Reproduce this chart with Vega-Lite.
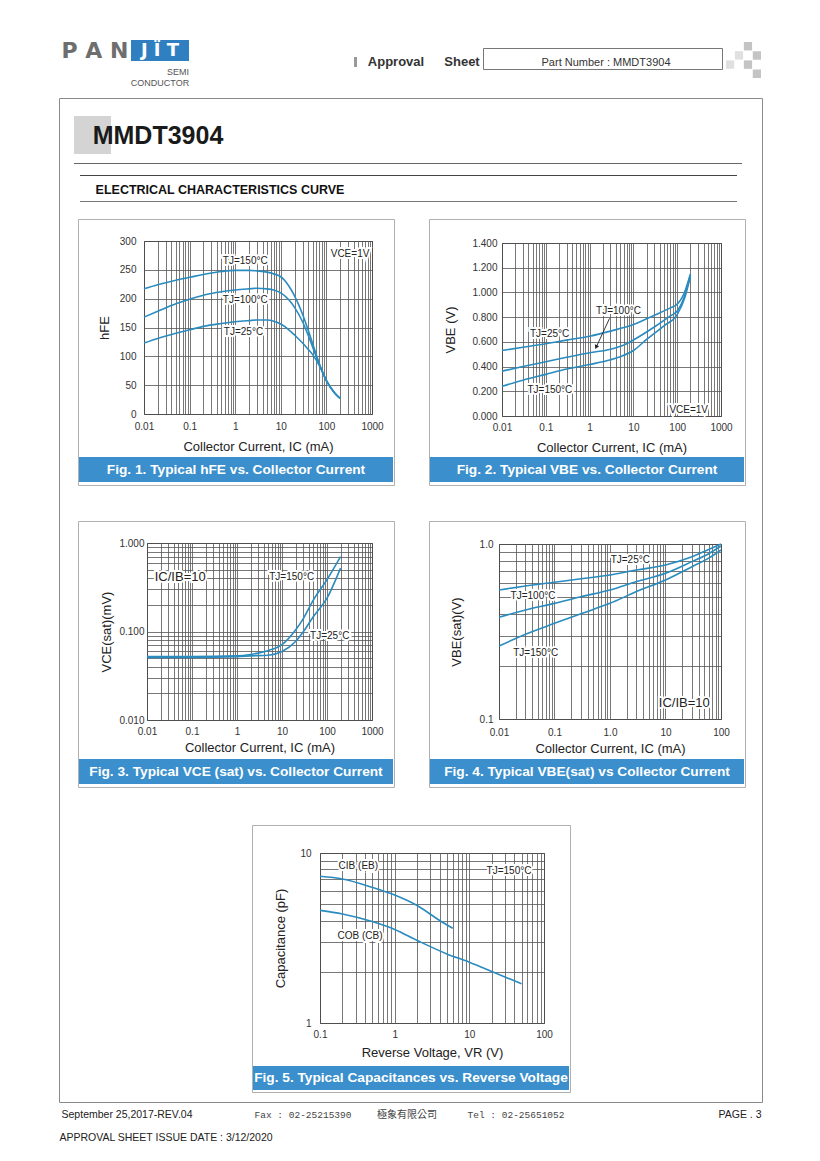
{
"$schema":"https://vega.github.io/schema/vega-lite/v6.json",
"background":"white","padding":0,"bounds":"flush","spacing":0,
"config":{"font":"Liberation Sans","view":{"stroke":null},
"axis":{"labelFont":"Liberation Sans","labelFontSize":10,"labelColor":"#333","titleFont":"Liberation Sans","titleFontSize":13,"titleFontWeight":"normal","titleColor":"#222","ticks":false,"tickSize":0,"domain":false,"grid":true,"gridColor":"#555","gridWidth":0.8,"gridOpacity":1,"labelOverlap":false,"labelFlush":false,"labelBound":false}},
"datasets":{
"f1":[
{"tj":"150","ic":0.01,"h":217},{"tj":"150","ic":0.02,"h":224},{"tj":"150","ic":0.05,"h":232},{"tj":"150","ic":0.1,"h":237},{"tj":"150","ic":0.2,"h":242},{"tj":"150","ic":0.5,"h":247},{"tj":"150","ic":1,"h":249},{"tj":"150","ic":2,"h":249},{"tj":"150","ic":3,"h":248},{"tj":"150","ic":5,"h":246},{"tj":"150","ic":7,"h":243},{"tj":"150","ic":10,"h":238},{"tj":"150","ic":13,"h":229},{"tj":"150","ic":17,"h":215},{"tj":"150","ic":20,"h":205},{"tj":"150","ic":30,"h":173},{"tj":"150","ic":40,"h":145},{"tj":"150","ic":50,"h":122},{"tj":"150","ic":70,"h":87},{"tj":"150","ic":100,"h":58},{"tj":"150","ic":150,"h":37},{"tj":"150","ic":200,"h":27},
{"tj":"100","ic":0.01,"h":168},{"tj":"100","ic":0.02,"h":178},{"tj":"100","ic":0.05,"h":191},{"tj":"100","ic":0.1,"h":199},{"tj":"100","ic":0.2,"h":206},{"tj":"100","ic":0.5,"h":212},{"tj":"100","ic":1,"h":215},{"tj":"100","ic":2,"h":217},{"tj":"100","ic":3,"h":218},{"tj":"100","ic":5,"h":217},{"tj":"100","ic":7,"h":215},{"tj":"100","ic":10,"h":210},{"tj":"100","ic":15,"h":198},{"tj":"100","ic":20,"h":185},{"tj":"100","ic":30,"h":160},{"tj":"100","ic":40,"h":136},{"tj":"100","ic":50,"h":116},{"tj":"100","ic":70,"h":86},{"tj":"100","ic":100,"h":58},{"tj":"100","ic":150,"h":37},{"tj":"100","ic":200,"h":27},
{"tj":"25","ic":0.01,"h":123},{"tj":"25","ic":0.02,"h":131},{"tj":"25","ic":0.05,"h":140},{"tj":"25","ic":0.1,"h":146},{"tj":"25","ic":0.2,"h":152},{"tj":"25","ic":0.5,"h":157},{"tj":"25","ic":1,"h":160},{"tj":"25","ic":2,"h":162},{"tj":"25","ic":3,"h":163},{"tj":"25","ic":5,"h":163},{"tj":"25","ic":7,"h":161},{"tj":"25","ic":10,"h":156},{"tj":"25","ic":15,"h":146},{"tj":"25","ic":20,"h":137},{"tj":"25","ic":30,"h":123},{"tj":"25","ic":40,"h":112},{"tj":"25","ic":50,"h":103},{"tj":"25","ic":70,"h":84},{"tj":"25","ic":100,"h":58},{"tj":"25","ic":150,"h":37},{"tj":"25","ic":200,"h":27}],
"f1l":[{"ic":1.66,"h":265,"label":"TJ=150°C"},{"ic":1.66,"h":197,"label":"TJ=100°C"},{"ic":1.52,"h":142,"label":"TJ=25°C"},{"ic":330,"h":277,"label":"VCE=1V"}],
"f2":[
{"tj":"25","ic":0.01,"v":0.53},{"tj":"25","ic":0.03,"v":0.556},{"tj":"25","ic":0.1,"v":0.584},{"tj":"25","ic":0.3,"v":0.614},{"tj":"25","ic":1,"v":0.646},{"tj":"25","ic":3,"v":0.687},{"tj":"25","ic":10,"v":0.74},{"tj":"25","ic":30,"v":0.815},{"tj":"25","ic":70,"v":0.875},{"tj":"25","ic":100,"v":0.905},{"tj":"25","ic":130,"v":0.96},{"tj":"25","ic":150,"v":1.01},{"tj":"25","ic":200,"v":1.15},
{"tj":"100","ic":0.01,"v":0.363},{"tj":"100","ic":0.03,"v":0.4},{"tj":"100","ic":0.1,"v":0.439},{"tj":"100","ic":0.3,"v":0.475},{"tj":"100","ic":1,"v":0.512},{"tj":"100","ic":3,"v":0.54},{"tj":"100","ic":7,"v":0.585},{"tj":"100","ic":10,"v":0.615},{"tj":"100","ic":30,"v":0.72},{"tj":"100","ic":70,"v":0.81},{"tj":"100","ic":100,"v":0.85},{"tj":"100","ic":150,"v":0.98},{"tj":"100","ic":200,"v":1.14},
{"tj":"150","ic":0.01,"v":0.24},{"tj":"150","ic":0.03,"v":0.29},{"tj":"150","ic":0.1,"v":0.337},{"tj":"150","ic":0.3,"v":0.38},{"tj":"150","ic":1,"v":0.417},{"tj":"150","ic":3,"v":0.455},{"tj":"150","ic":5,"v":0.48},{"tj":"150","ic":10,"v":0.53},{"tj":"150","ic":20,"v":0.62},{"tj":"150","ic":50,"v":0.73},{"tj":"150","ic":100,"v":0.82},{"tj":"150","ic":150,"v":0.96},{"tj":"150","ic":200,"v":1.13}],
"f2l":[{"ic":4.57,"v":0.848,"label":"TJ=100°C"},{"ic":0.122,"v":0.665,"label":"TJ=25°C"},{"ic":0.124,"v":0.21,"label":"TJ=150°C"},{"ic":183,"v":0.046,"label":"VCE=1V"}],
"f2a":[{"ic":2.85,"v":0.79,"ic2":1.45,"v2":0.565}],
"f2h":[{"ic":1.41,"v":0.557}],
"f3":[
{"tj":"150","ic":0.01,"v":0.052},{"tj":"150","ic":0.1,"v":0.052},{"tj":"150","ic":1,"v":0.053},{"tj":"150","ic":2,"v":0.055},{"tj":"150","ic":5,"v":0.061},{"tj":"150","ic":10,"v":0.071},{"tj":"150","ic":20,"v":0.104},{"tj":"150","ic":30,"v":0.141},{"tj":"150","ic":50,"v":0.228},{"tj":"150","ic":100,"v":0.385},{"tj":"150","ic":200,"v":0.7},
{"tj":"25","ic":0.01,"v":0.051},{"tj":"25","ic":0.1,"v":0.051},{"tj":"25","ic":1,"v":0.052},{"tj":"25","ic":2,"v":0.053},{"tj":"25","ic":5,"v":0.054},{"tj":"25","ic":10,"v":0.0594},{"tj":"25","ic":20,"v":0.077},{"tj":"25","ic":30,"v":0.1},{"tj":"25","ic":50,"v":0.148},{"tj":"25","ic":100,"v":0.238},{"tj":"25","ic":200,"v":0.52}],
"f3l":[{"ic":0.0547,"v":0.416,"label":"IC/IB=10","kind":"ratio"},{"ic":16.4,"v":0.416,"label":"TJ=150°C","kind":"tj"},{"ic":115,"v":0.0893,"label":"TJ=25°C","kind":"tj"}],
"f4":[
{"tj":"25","ic":0.01,"v":0.546},{"tj":"25","ic":0.03,"v":0.575},{"tj":"25","ic":0.1,"v":0.604},{"tj":"25","ic":0.3,"v":0.633},{"tj":"25","ic":1,"v":0.665},{"tj":"25","ic":3,"v":0.71},{"tj":"25","ic":10,"v":0.759},{"tj":"25","ic":30,"v":0.846},{"tj":"25","ic":60,"v":0.93},{"tj":"25","ic":100,"v":1.0},
{"tj":"100","ic":0.01,"v":0.381},{"tj":"100","ic":0.03,"v":0.42},{"tj":"100","ic":0.1,"v":0.458},{"tj":"100","ic":0.3,"v":0.5},{"tj":"100","ic":1,"v":0.546},{"tj":"100","ic":3,"v":0.61},{"tj":"100","ic":10,"v":0.68},{"tj":"100","ic":30,"v":0.793},{"tj":"100","ic":60,"v":0.88},{"tj":"100","ic":100,"v":0.974},
{"tj":"150","ic":0.01,"v":0.261},{"tj":"150","ic":0.03,"v":0.305},{"tj":"150","ic":0.1,"v":0.352},{"tj":"150","ic":0.3,"v":0.4},{"tj":"150","ic":1,"v":0.458},{"tj":"150","ic":3,"v":0.535},{"tj":"150","ic":10,"v":0.623},{"tj":"150","ic":30,"v":0.742},{"tj":"150","ic":60,"v":0.83},{"tj":"150","ic":100,"v":0.924}],
"f4l":[{"ic":2.32,"v":0.81,"label":"TJ=25°C","kind":"tj"},{"ic":0.041,"v":0.504,"label":"TJ=100°C","kind":"tj"},{"ic":0.0458,"v":0.239,"label":"TJ=150°C","kind":"tj"},{"ic":21.8,"v":0.123,"label":"IC/IB=10","kind":"ratio"}],
"f5":[
{"s":"CIB","vr":0.1,"c":7.3},{"s":"CIB","vr":0.2,"c":7.03},{"s":"CIB","vr":0.5,"c":6.28},{"s":"CIB","vr":1,"c":5.66},{"s":"CIB","vr":2,"c":4.91},{"s":"CIB","vr":4,"c":4.01},{"s":"CIB","vr":6,"c":3.61},
{"s":"COB","vr":0.1,"c":4.6},{"s":"COB","vr":0.2,"c":4.38},{"s":"COB","vr":0.5,"c":3.95},{"s":"COB","vr":1,"c":3.55},{"s":"COB","vr":2,"c":3.06},{"s":"COB","vr":5,"c":2.55},{"s":"COB","vr":10,"c":2.28},{"s":"COB","vr":20,"c":2.01},{"s":"COB","vr":50,"c":1.7}],
"f5l":[{"vr":0.326,"c":8.43,"label":"CIB (EB)"},{"vr":0.343,"c":3.23,"label":"COB (CB)"},{"vr":34,"c":7.87,"label":"TJ=150°C"}]
},
"vconcat":[
{"bounds":"flush","spacing":0,"vconcat":[{"data":{"values":[]},"mark":"point","width":1,"height":98},{"bounds":"flush","spacing":0,"hconcat":[{"data":{"values":[]},"mark":"point","width":59,"height":1},
 {"width":703,"height":1004,"data":{"values":[]},"mark":"point","view":{"stroke":"#8a8a8a","strokeWidth":1}}]}]},
{"bounds":"flush","spacing":0,"vconcat":[{"data":{"values":[]},"mark":"point","width":1,"height":41},{"bounds":"flush","spacing":0,"hconcat":[{"data":{"values":[]},"mark":"point","width":58,"height":1},
 {"width":74,"height":20,"data":{"values":[{"t":"P A N"}]},"mark":{"type":"text","font":"DejaVu Sans","fontWeight":"bold","fontSize":22,"fill":"#6e6e6e"},"encoding":{"text":{"field":"t"}}}]}]},
{"bounds":"flush","spacing":0,"vconcat":[{"data":{"values":[]},"mark":"point","width":1,"height":40},{"bounds":"flush","spacing":0,"hconcat":[{"data":{"values":[]},"mark":"point","width":131,"height":1},
 {"width":58,"height":21,"view":{"fill":"#2f7fc1","stroke":null},"data":{"values":[{"t":"J Ï T"}]},"mark":{"type":"text","font":"DejaVu Sans","fontWeight":"bold","fontSize":18,"fill":"white"},"encoding":{"text":{"field":"t"}}}]}]},
{"bounds":"flush","spacing":0,"vconcat":[{"data":{"values":[]},"mark":"point","width":1,"height":67},{"bounds":"flush","spacing":0,"hconcat":[{"data":{"values":[]},"mark":"point","width":168,"height":1},
 {"width":20,"height":10,"data":{"values":[{"t":"SEMI"}]},"mark":{"type":"text","fontSize":9,"fill":"#555"},"encoding":{"text":{"field":"t"}}}]}]},
{"bounds":"flush","spacing":0,"vconcat":[{"data":{"values":[]},"mark":"point","width":1,"height":78},{"bounds":"flush","spacing":0,"hconcat":[{"data":{"values":[]},"mark":"point","width":131,"height":1},
 {"width":58,"height":10,"data":{"values":[{"t":"CONDUCTOR"}]},"mark":{"type":"text","fontSize":9,"fill":"#555"},"encoding":{"text":{"field":"t"}}}]}]},
{"bounds":"flush","spacing":0,"vconcat":[{"data":{"values":[]},"mark":"point","width":1,"height":57},{"bounds":"flush","spacing":0,"hconcat":[{"data":{"values":[]},"mark":"point","width":354,"height":1},
 {"width":3,"height":10,"data":{"values":[]},"mark":"point","view":{"fill":"#9a9a9a","stroke":null}}]}]},
{"bounds":"flush","spacing":0,"vconcat":[{"data":{"values":[]},"mark":"point","width":1,"height":56},{"bounds":"flush","spacing":0,"hconcat":[{"data":{"values":[]},"mark":"point","width":363,"height":1},
 {"width":66,"height":12,"data":{"values":[{"t":"Approval"}]},"mark":{"type":"text","fontSize":13,"fontWeight":"bold","fill":"#333"},"encoding":{"text":{"field":"t"}}}]}]},
{"bounds":"flush","spacing":0,"vconcat":[{"data":{"values":[]},"mark":"point","width":1,"height":56},{"bounds":"flush","spacing":0,"hconcat":[{"data":{"values":[]},"mark":"point","width":442,"height":1},
 {"width":40,"height":12,"data":{"values":[{"t":"Sheet"}]},"mark":{"type":"text","fontSize":13,"fontWeight":"bold","fill":"#333"},"encoding":{"text":{"field":"t"}}}]}]},
{"bounds":"flush","spacing":0,"vconcat":[{"data":{"values":[]},"mark":"point","width":1,"height":48},{"bounds":"flush","spacing":0,"hconcat":[{"data":{"values":[]},"mark":"point","width":483,"height":1},
 {"width":239,"height":21,"data":{"values":[]},"mark":"point","view":{"stroke":"#777","strokeWidth":1}}]}]},
{"bounds":"flush","spacing":0,"vconcat":[{"data":{"values":[]},"mark":"point","width":1,"height":57},{"bounds":"flush","spacing":0,"hconcat":[{"data":{"values":[]},"mark":"point","width":483,"height":1},
 {"width":246,"height":12,"data":{"values":[{"t":"Part Number : MMDT3904"}]},"mark":{"type":"text","fontSize":11,"fill":"#333"},"encoding":{"text":{"field":"t"}}}]}]},
{"bounds":"flush","spacing":0,"vconcat":[{"data":{"values":[]},"mark":"point","width":1,"height":42},{"bounds":"flush","spacing":0,"hconcat":[{"data":{"values":[]},"mark":"point","width":726,"height":1},
 {"width":35,"height":36,"data":{"values":[{"c":2,"r":0,"s":"d"},{"c":1,"r":1,"s":"l"},{"c":3,"r":1,"s":"d"},{"c":0,"r":2,"s":"l"},{"c":2,"r":2,"s":"d"},{"c":3,"r":3,"s":"d"}]},"mark":{"type":"rect"},
  "encoding":{"x":{"field":"c","type":"ordinal","scale":{"domain":[0,1,2,3],"paddingInner":0.08,"paddingOuter":0},"axis":null},"y":{"field":"r","type":"ordinal","scale":{"domain":[0,1,2,3],"paddingInner":0.08,"paddingOuter":0},"axis":null},"color":{"field":"s","type":"nominal","scale":{"domain":["d","l"],"range":["#c4c4c4","#e0e0e0"]},"legend":null}}}]}]},
{"bounds":"flush","spacing":0,"vconcat":[{"data":{"values":[]},"mark":"point","width":1,"height":116},{"bounds":"flush","spacing":0,"hconcat":[{"data":{"values":[]},"mark":"point","width":74,"height":1},
 {"width":37,"height":38,"data":{"values":[]},"mark":"point","view":{"fill":"#d4d4d4","stroke":null}}]}]},
{"bounds":"flush","spacing":0,"vconcat":[{"data":{"values":[]},"mark":"point","width":1,"height":126},{"bounds":"flush","spacing":0,"hconcat":[{"data":{"values":[]},"mark":"point","width":88,"height":1},
 {"width":140,"height":20,"data":{"values":[{"t":"MMDT3904"}]},"mark":{"type":"text","fontSize":25,"fontWeight":"bold","fill":"#1a1a1a"},"encoding":{"text":{"field":"t"}}}]}]},
{"bounds":"flush","spacing":0,"vconcat":[{"data":{"values":[]},"mark":"point","width":1,"height":163},{"bounds":"flush","spacing":0,"hconcat":[{"data":{"values":[]},"mark":"point","width":74,"height":1},
 {"width":668,"height":1,"data":{"values":[]},"mark":"point","view":{"fill":"#666","stroke":null}}]}]},
{"bounds":"flush","spacing":0,"vconcat":[{"data":{"values":[]},"mark":"point","width":1,"height":175},{"bounds":"flush","spacing":0,"hconcat":[{"data":{"values":[]},"mark":"point","width":80,"height":1},
 {"width":657,"height":1,"data":{"values":[]},"mark":"point","view":{"fill":"#444","stroke":null}}]}]},
{"bounds":"flush","spacing":0,"vconcat":[{"data":{"values":[]},"mark":"point","width":1,"height":201},{"bounds":"flush","spacing":0,"hconcat":[{"data":{"values":[]},"mark":"point","width":80,"height":1},
 {"width":657,"height":1,"data":{"values":[]},"mark":"point","view":{"fill":"#777","stroke":null}}]}]},
{"bounds":"flush","spacing":0,"vconcat":[{"data":{"values":[]},"mark":"point","width":1,"height":184},{"bounds":"flush","spacing":0,"hconcat":[{"data":{"values":[]},"mark":"point","width":89,"height":1},
 {"width":262,"height":12,"data":{"values":[{"t":"ELECTRICAL CHARACTERISTICS CURVE"}]},"mark":{"type":"text","fontSize":12.5,"fontWeight":"bold","fill":"#111"},"encoding":{"text":{"field":"t"}}}]}]},
{"bounds":"flush","spacing":0,"vconcat":[{"data":{"values":[]},"mark":"point","width":1,"height":219},{"bounds":"flush","spacing":0,"hconcat":[{"data":{"values":[]},"mark":"point","width":78,"height":1},
 {"width":316,"height":266,"data":{"values":[]},"mark":"point","view":{"stroke":"#b0b0b0","strokeWidth":1}},
 {"data":{"values":[]},"mark":"point","width":35,"height":1},
 {"width":316,"height":266,"data":{"values":[]},"mark":"point","view":{"stroke":"#b0b0b0","strokeWidth":1}}]}]},
{"bounds":"flush","spacing":0,"vconcat":[{"data":{"values":[]},"mark":"point","width":1,"height":521},{"bounds":"flush","spacing":0,"hconcat":[{"data":{"values":[]},"mark":"point","width":78,"height":1},
 {"width":316,"height":266,"data":{"values":[]},"mark":"point","view":{"stroke":"#b0b0b0","strokeWidth":1}},
 {"data":{"values":[]},"mark":"point","width":35,"height":1},
 {"width":316,"height":266,"data":{"values":[]},"mark":"point","view":{"stroke":"#b0b0b0","strokeWidth":1}}]}]},
{"bounds":"flush","spacing":0,"vconcat":[{"data":{"values":[]},"mark":"point","width":1,"height":825},{"bounds":"flush","spacing":0,"hconcat":[{"data":{"values":[]},"mark":"point","width":252,"height":1},
 {"width":318,"height":267,"data":{"values":[]},"mark":"point","view":{"stroke":"#b0b0b0","strokeWidth":1}}]}]},
{"bounds":"flush","spacing":0,"vconcat":[{"data":{"values":[]},"mark":"point","width":1,"height":241},{"bounds":"flush","spacing":0,"hconcat":[{"data":{"values":[]},"mark":"point","width":144,"height":1},
 {"width":228,"height":173,"view":{"stroke":"#333","strokeWidth":1},
  "layer":[
   {"data":{"name":"f1"},"mark":{"type":"line","interpolate":"monotone","strokeWidth":1.6,"color":"#2a8bbf"},
    "encoding":{"x":{"field":"ic","type":"quantitative","scale":{"type":"log","domain":[0.01,1000],"nice":false},"axis":{"title":"Collector Current, IC (mA)","tickCount":100,"labelOverlap":false,"values":[0.01,0.02,0.03,0.04,0.05,0.06,0.07,0.08,0.09,0.1,0.2,0.3,0.4,0.5,0.6,0.7,0.8,0.9,1,2,3,4,5,6,7,8,9,10,20,30,40,50,60,70,80,90,100,200,300,400,500,600,700,800,900,1000],"labelExpr":"indexof([0.01,0.1,1,10,100,1000], datum.value) >= 0 ? format(datum.value, '~g') : ''","labelPadding":7,"titlePadding":9}},
     "y":{"field":"h","type":"quantitative","scale":{"domain":[0,300],"nice":false},"axis":{"title":"hFE","tickCount":100,"labelOverlap":false,"values":[0,50,100,150,200,250,300],"labelPadding":8,"titlePadding":8}},
     "detail":{"field":"tj","type":"nominal"}}},
   {"data":{"name":"f1l"},"mark":{"type":"text","fontSize":10,"stroke":"white","strokeWidth":4,"fill":"white"},"encoding":{"x":{"field":"ic","type":"quantitative"},"y":{"field":"h","type":"quantitative"},"text":{"field":"label"}}},
   {"data":{"name":"f1l"},"mark":{"type":"text","fontSize":10,"fill":"#222"},"encoding":{"x":{"field":"ic","type":"quantitative"},"y":{"field":"h","type":"quantitative"},"text":{"field":"label"}}}
  ]}]}]},
{"bounds":"flush","spacing":0,"vconcat":[{"data":{"values":[]},"mark":"point","width":1,"height":243},{"bounds":"flush","spacing":0,"hconcat":[{"data":{"values":[]},"mark":"point","width":502,"height":1},
 {"width":219,"height":173,"view":{"stroke":"#333","strokeWidth":1},
  "layer":[
   {"data":{"name":"f2"},"mark":{"type":"line","interpolate":"monotone","strokeWidth":1.6,"color":"#2a8bbf"},
    "encoding":{"x":{"field":"ic","type":"quantitative","scale":{"type":"log","domain":[0.01,1000],"nice":false},"axis":{"title":"Collector Current, IC (mA)","tickCount":100,"labelOverlap":false,"values":[0.01,0.02,0.03,0.04,0.05,0.06,0.07,0.08,0.09,0.1,0.2,0.3,0.4,0.5,0.6,0.7,0.8,0.9,1,2,3,4,5,6,7,8,9,10,20,30,40,50,60,70,80,90,100,200,300,400,500,600,700,800,900,1000],"labelExpr":"indexof([0.01,0.1,1,10,100,1000], datum.value) >= 0 ? format(datum.value, '~g') : ''","labelPadding":6,"titlePadding":9}},
     "y":{"field":"v","type":"quantitative","scale":{"domain":[0,1.4],"nice":false},"axis":{"title":"VBE (V)","tickCount":100,"labelOverlap":false,"values":[0,0.2,0.4,0.6,0.8,1,1.2,1.4],"format":".3f","labelPadding":5,"titlePadding":14}},
     "detail":{"field":"tj","type":"nominal"}}},
   {"data":{"name":"f2a"},"mark":{"type":"rule","color":"#222","strokeWidth":0.9},"encoding":{"x":{"field":"ic","type":"quantitative"},"y":{"field":"v","type":"quantitative"},"x2":{"field":"ic2"},"y2":{"field":"v2"}}},
   {"data":{"name":"f2h"},"mark":{"type":"point","shape":"triangle-up","filled":true,"color":"#222","opacity":1,"size":22,"angle":205},"encoding":{"x":{"field":"ic","type":"quantitative"},"y":{"field":"v","type":"quantitative"}}},
   {"data":{"name":"f2l"},"mark":{"type":"text","fontSize":10,"stroke":"white","strokeWidth":4,"fill":"white"},"encoding":{"x":{"field":"ic","type":"quantitative"},"y":{"field":"v","type":"quantitative"},"text":{"field":"label"}}},
   {"data":{"name":"f2l"},"mark":{"type":"text","fontSize":10,"fill":"#222"},"encoding":{"x":{"field":"ic","type":"quantitative"},"y":{"field":"v","type":"quantitative"},"text":{"field":"label"}}}
  ]}]}]},
{"bounds":"flush","spacing":0,"vconcat":[{"data":{"values":[]},"mark":"point","width":1,"height":543},{"bounds":"flush","spacing":0,"hconcat":[{"data":{"values":[]},"mark":"point","width":147,"height":1},
 {"width":225,"height":177,"view":{"stroke":"#333","strokeWidth":1},
  "layer":[
   {"data":{"name":"f3"},"mark":{"type":"line","interpolate":"monotone","strokeWidth":1.6,"color":"#2a8bbf"},
    "encoding":{"x":{"field":"ic","type":"quantitative","scale":{"type":"log","domain":[0.01,1000],"nice":false},"axis":{"title":"Collector Current, IC (mA)","tickCount":100,"labelOverlap":false,"values":[0.01,0.02,0.03,0.04,0.05,0.06,0.07,0.08,0.09,0.1,0.2,0.3,0.4,0.5,0.6,0.7,0.8,0.9,1,2,3,4,5,6,7,8,9,10,20,30,40,50,60,70,80,90,100,200,300,400,500,600,700,800,900,1000],"labelExpr":"indexof([0.01,0.1,1,10,100,1000], datum.value) >= 0 ? format(datum.value, '~g') : ''","labelPadding":6,"titlePadding":5}},
     "y":{"field":"v","type":"quantitative","scale":{"type":"log","domain":[0.01,1],"nice":false},"axis":{"title":"VCE(sat)(mV)","tickCount":100,"labelOverlap":false,"values":[0.01,0.02,0.03,0.04,0.05,0.06,0.07,0.08,0.09,0.1,0.2,0.3,0.4,0.5,0.6,0.7,0.8,0.9,1],"labelExpr":"indexof([0.01,0.1,1], datum.value) >= 0 ? format(datum.value, '.3f') : ''","labelPadding":3,"titlePadding":5}},
     "detail":{"field":"tj","type":"nominal"}}},
   {"data":{"name":"f3l"},"mark":{"type":"text","stroke":"white","strokeWidth":4,"fill":"white"},"encoding":{"x":{"field":"ic","type":"quantitative"},"y":{"field":"v","type":"quantitative"},"text":{"field":"label"},"size":{"field":"kind","type":"ordinal","scale":{"domain":["tj","ratio"],"range":[10,13]},"legend":null}}},
   {"data":{"name":"f3l"},"mark":{"type":"text","fill":"#222"},"encoding":{"x":{"field":"ic","type":"quantitative"},"y":{"field":"v","type":"quantitative"},"text":{"field":"label"},"size":{"field":"kind","type":"ordinal","scale":{"domain":["tj","ratio"],"range":[10,13]},"legend":null}}}
  ]}]}]},
{"bounds":"flush","spacing":0,"vconcat":[{"data":{"values":[]},"mark":"point","width":1,"height":544},{"bounds":"flush","spacing":0,"hconcat":[{"data":{"values":[]},"mark":"point","width":499,"height":1},
 {"width":222,"height":175,"view":{"stroke":"#333","strokeWidth":1},
  "layer":[
   {"data":{"name":"f4"},"mark":{"type":"line","interpolate":"monotone","strokeWidth":1.6,"color":"#2a8bbf"},
    "encoding":{"x":{"field":"ic","type":"quantitative","scale":{"type":"log","domain":[0.01,100],"nice":false},"axis":{"title":"Collector Current, IC (mA)","tickCount":100,"labelOverlap":false,"values":[0.01,0.02,0.03,0.04,0.05,0.06,0.07,0.08,0.09,0.1,0.2,0.3,0.4,0.5,0.6,0.7,0.8,0.9,1,2,3,4,5,6,7,8,9,10,20,30,40,50,60,70,80,90,100],"labelExpr":"datum.value == 0.01 ? '0.01' : datum.value == 0.1 ? '0.1' : datum.value == 1 ? '1.0' : datum.value == 10 ? '10' : datum.value == 100 ? '100' : ''","labelPadding":8,"titlePadding":5}},
     "y":{"field":"v","type":"quantitative","scale":{"type":"log","domain":[0.1,1],"nice":false},"axis":{"title":"VBE(sat)(V)","tickCount":100,"labelOverlap":false,"values":[0.1,0.2,0.3,0.4,0.5,0.6,0.7,0.8,0.9,1],"labelExpr":"datum.value == 0.1 || datum.value == 1 ? format(datum.value, '.1f') : ''","labelPadding":6,"titlePadding":16}},
     "detail":{"field":"tj","type":"nominal"}}},
   {"data":{"name":"f4l"},"mark":{"type":"text","stroke":"white","strokeWidth":4,"fill":"white"},"encoding":{"x":{"field":"ic","type":"quantitative"},"y":{"field":"v","type":"quantitative"},"text":{"field":"label"},"size":{"field":"kind","type":"ordinal","scale":{"domain":["tj","ratio"],"range":[10,13]},"legend":null}}},
   {"data":{"name":"f4l"},"mark":{"type":"text","fill":"#222"},"encoding":{"x":{"field":"ic","type":"quantitative"},"y":{"field":"v","type":"quantitative"},"text":{"field":"label"},"size":{"field":"kind","type":"ordinal","scale":{"domain":["tj","ratio"],"range":[10,13]},"legend":null}}}
  ]}]}]},
{"bounds":"flush","spacing":0,"vconcat":[{"data":{"values":[]},"mark":"point","width":1,"height":853},{"bounds":"flush","spacing":0,"hconcat":[{"data":{"values":[]},"mark":"point","width":320,"height":1},
 {"width":224,"height":170,"view":{"stroke":"#333","strokeWidth":1},
  "layer":[
   {"data":{"name":"f5"},"mark":{"type":"line","interpolate":"monotone","strokeWidth":1.6,"color":"#2a8bbf"},
    "encoding":{"x":{"field":"vr","type":"quantitative","scale":{"type":"log","domain":[0.1,100],"nice":false},"axis":{"title":"Reverse Voltage, VR (V)","tickCount":100,"labelOverlap":false,"values":[0.1,0.2,0.3,0.4,0.5,0.6,0.7,0.8,0.9,1,2,3,4,5,6,7,8,9,10,20,30,40,50,60,70,80,90,100],"labelExpr":"indexof([0.1,1,10,100], datum.value) >= 0 ? format(datum.value, '~g') : ''","labelPadding":6,"titlePadding":7}},
     "y":{"field":"c","type":"quantitative","scale":{"type":"log","domain":[1,10],"nice":false},"axis":{"title":"Capacitance (pF)","tickCount":100,"labelOverlap":false,"values":[1,2,3,4,5,6,7,8,9,10],"labelExpr":"indexof([1,10], datum.value) >= 0 ? format(datum.value, '~g') : ''","labelPadding":9,"titlePadding":12}},
     "detail":{"field":"s","type":"nominal"}}},
   {"data":{"name":"f5l"},"mark":{"type":"text","fontSize":10,"stroke":"white","strokeWidth":4,"fill":"white"},"encoding":{"x":{"field":"vr","type":"quantitative"},"y":{"field":"c","type":"quantitative"},"text":{"field":"label"}}},
   {"data":{"name":"f5l"},"mark":{"type":"text","fontSize":10,"fill":"#222"},"encoding":{"x":{"field":"vr","type":"quantitative"},"y":{"field":"c","type":"quantitative"},"text":{"field":"label"}}}
  ]}]}]},
{"bounds":"flush","spacing":0,"vconcat":[{"data":{"values":[]},"mark":"point","width":1,"height":457},{"bounds":"flush","spacing":0,"hconcat":[{"data":{"values":[]},"mark":"point","width":79,"height":1},
 {"width":314,"height":25,"view":{"fill":"#3a8fcc","stroke":null},"data":{"values":[{"t":"Fig. 1. Typical hFE vs. Collector Current"}]},"mark":{"type":"text","fontWeight":"bold","fontSize":13.7,"fill":"white"},"encoding":{"text":{"field":"t"}}},
 {"data":{"values":[]},"mark":"point","width":37,"height":1},
 {"width":314,"height":25,"view":{"fill":"#3a8fcc","stroke":null},"data":{"values":[{"t":"Fig. 2. Typical VBE vs. Collector Current"}]},"mark":{"type":"text","fontWeight":"bold","fontSize":13.7,"fill":"white"},"encoding":{"text":{"field":"t"}}}]}]},
{"bounds":"flush","spacing":0,"vconcat":[{"data":{"values":[]},"mark":"point","width":1,"height":759},{"bounds":"flush","spacing":0,"hconcat":[{"data":{"values":[]},"mark":"point","width":79,"height":1},
 {"width":314,"height":25,"view":{"fill":"#3a8fcc","stroke":null},"data":{"values":[{"t":"Fig. 3. Typical VCE (sat) vs. Collector Current"}]},"mark":{"type":"text","fontWeight":"bold","fontSize":13.7,"fill":"white"},"encoding":{"text":{"field":"t"}}},
 {"data":{"values":[]},"mark":"point","width":37,"height":1},
 {"width":314,"height":25,"view":{"fill":"#3a8fcc","stroke":null},"data":{"values":[{"t":"Fig. 4. Typical VBE(sat) vs Collector Current"}]},"mark":{"type":"text","fontWeight":"bold","fontSize":13.7,"fill":"white"},"encoding":{"text":{"field":"t"}}}]}]},
{"bounds":"flush","spacing":0,"vconcat":[{"data":{"values":[]},"mark":"point","width":1,"height":1066},{"bounds":"flush","spacing":0,"hconcat":[{"data":{"values":[]},"mark":"point","width":253,"height":1},
 {"width":316,"height":24,"view":{"fill":"#3a8fcc","stroke":null},"data":{"values":[{"t":"Fig. 5. Typical Capacitances vs. Reverse Voltage"}]},"mark":{"type":"text","fontWeight":"bold","fontSize":13.7,"fill":"white"},"encoding":{"text":{"field":"t"}}}]}]},
{"bounds":"flush","spacing":0,"vconcat":[{"data":{"values":[]},"mark":"point","width":1,"height":1109},{"bounds":"flush","spacing":0,"hconcat":[{"data":{"values":[]},"mark":"point","width":60,"height":1},
 {"width":134,"height":12,"data":{"values":[{"t":"September 25,2017-REV.04"}]},"mark":{"type":"text","fontSize":10.5,"fill":"#222"},"encoding":{"text":{"field":"t"}}},
 {"data":{"values":[]},"mark":"point","width":60,"height":1},
 {"width":98,"height":12,"data":{"values":[{"t":"Fax : 02-25215390"}]},"mark":{"type":"text","font":"Liberation Mono","fontSize":9.5,"fill":"#444"},"encoding":{"text":{"field":"t"}}},
 {"data":{"values":[]},"mark":"point","width":20,"height":1},
 {"width":70,"height":12,"data":{"values":[{"t":"極象有限公司"}]},"mark":{"type":"text","font":"Noto Sans CJK TC","fontSize":10,"fill":"#444"},"encoding":{"text":{"field":"t"}}},
 {"data":{"values":[]},"mark":"point","width":24,"height":1},
 {"width":100,"height":12,"data":{"values":[{"t":"Tel : 02-25651052"}]},"mark":{"type":"text","font":"Liberation Mono","fontSize":9.5,"fill":"#444"},"encoding":{"text":{"field":"t"}}},
 {"data":{"values":[]},"mark":"point","width":151,"height":1},
 {"width":46,"height":12,"data":{"values":[{"t":"PAGE . 3"}]},"mark":{"type":"text","fontSize":10.5,"fill":"#222"},"encoding":{"text":{"field":"t"}}}]}]},
{"bounds":"flush","spacing":0,"vconcat":[{"data":{"values":[]},"mark":"point","width":1,"height":1132},{"bounds":"flush","spacing":0,"hconcat":[{"data":{"values":[]},"mark":"point","width":60,"height":1},
 {"width":212,"height":12,"data":{"values":[{"t":"APPROVAL SHEET ISSUE DATE : 3/12/2020"}]},"mark":{"type":"text","fontSize":10.5,"fill":"#222"},"encoding":{"text":{"field":"t"}}}]}]},
{"width":820,"height":1161,"data":{"values":[]},"mark":"point"}
]
}
